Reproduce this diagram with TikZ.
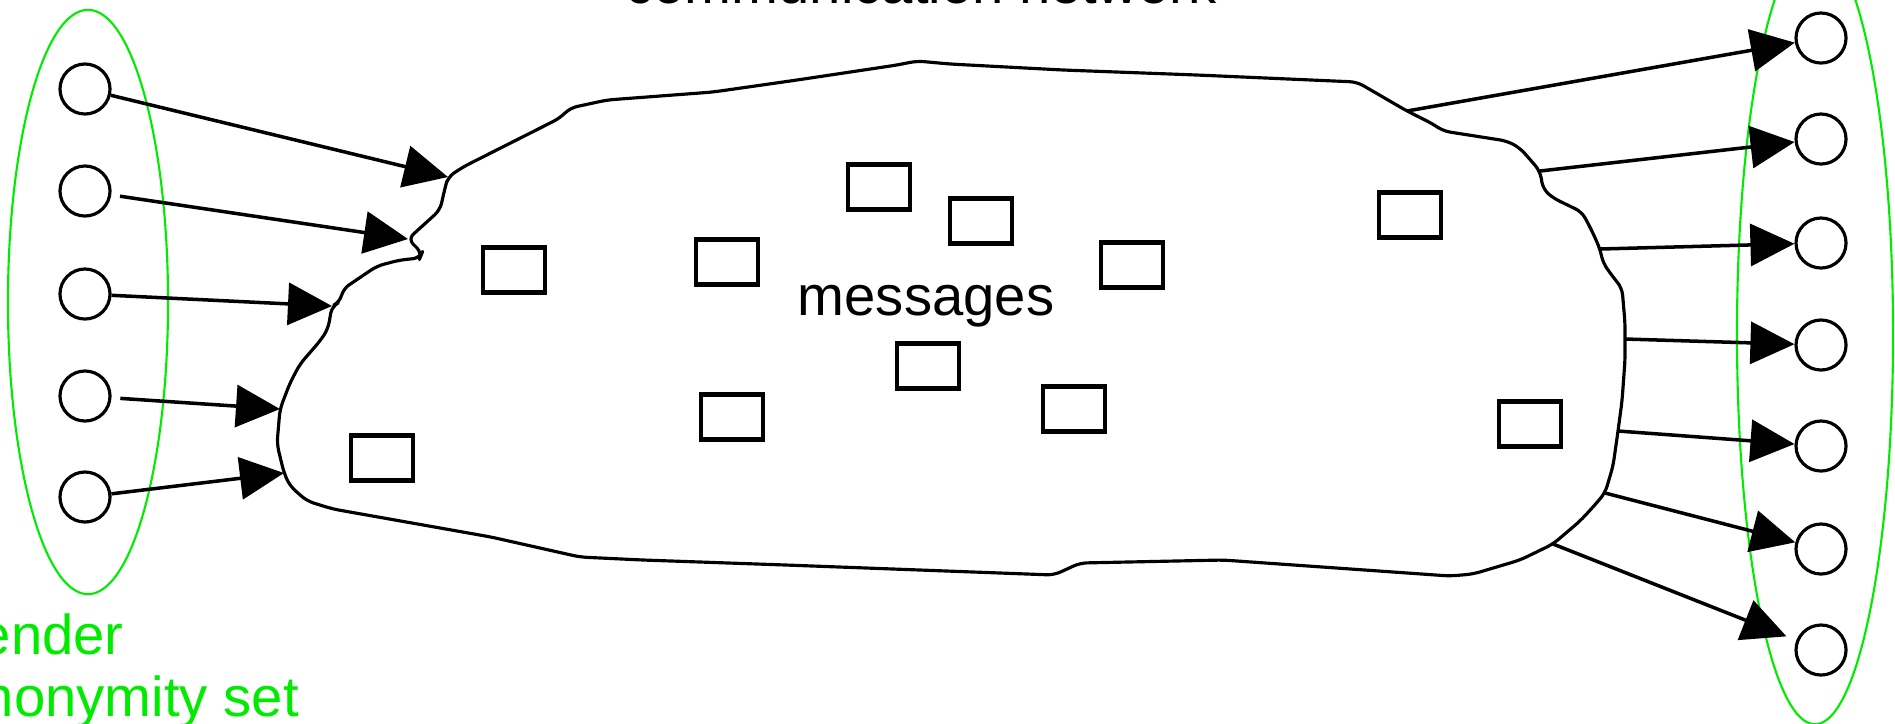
\documentclass[tikz,border=0pt]{standalone}
\usepackage{fontspec}
\setmainfont{Liberation Sans}
\usetikzlibrary{arrows.meta,shapes.geometric,positioning}
\definecolor{setgreen}{RGB}{0,235,0}

\begin{document}
\begin{tikzpicture}[x=0.01cm,y=-0.01cm,
  user/.style={circle,draw,line width=0.9pt,minimum size=0.5cm,inner sep=0pt},
  msg/.style={rectangle,draw,line width=1.3pt,minimum width=0.62cm,minimum height=0.45cm,inner sep=0pt},
  flow/.style={line width=1pt,-{Triangle[length=4.4mm,width=4.2mm]}},
  anonset/.style={ellipse,draw=setgreen,line width=0.6pt,inner sep=0pt}]
\tikzstyle{every node}=[font=\fontsize{16}{17.6}\selectfont]
\useasboundingbox (0,0) rectangle (1895,723);

% anonymity sets
\node[anonset,minimum width=1.6cm,minimum height=5.84cm] (sendset) at (88,302) {};
\node[anonset,minimum width=1.56cm,minimum height=7.8cm] (recvset) at (1815,334) {};
\node[anchor=base west,align=left,text=setgreen,inner sep=0pt] (setlabel) at (-49,716) {sender\\anonymity set};

% senders
\node[user] (s1) at (85,89) {};
\node[user] (s2) at (85,191) {};
\node[user] (s3) at (85,294) {};
\node[user] (s4) at (85,396) {};
\node[user] (s5) at (85,497) {};

% recipients
\node[user] (r1) at (1821,38) {};
\node[user] (r2) at (1821,139) {};
\node[user] (r3) at (1821,243) {};
\node[user] (r4) at (1821,345) {};
\node[user] (r5) at (1821,446) {};
\node[user] (r6) at (1821,549) {};
\node[user] (r7) at (1821,650) {};

% entry and exit points on the network
\coordinate (in1) at (448,177);
\coordinate (in2) at (408,239);
\coordinate (in3) at (332,306);
\coordinate (in4) at (280,409);
\coordinate (in5) at (284,473);
\coordinate (out1) at (1407,111);
\coordinate (out2) at (1540,171);
\coordinate (out3) at (1600,249);
\coordinate (out4) at (1625,339);
\coordinate (out5) at (1618,431);
\coordinate (out6) at (1605,493);
\coordinate (out7) at (1553,544);

% communication network
\draw[line width=0.9pt,line join=round,rounded corners=2pt]
  (in1) -- (463,167) -- (560,118) -- (570,108) -- (607,100) -- (713,92) -- (797,80)
  -- (897,65) -- (917,61) -- (950,64) -- (1063,70) -- (1197,75) -- (1357,82)
  -- (out1) -- (1433,124) -- (1443,131) -- (1507,141) -- (1520,148) -- (out2)
  -- (1543,189) -- (1553,198) -- (1582,212) -- (1592,231) -- (out3) -- (1603,263)
  -- (1613,277) -- (1622,288) -- (1625,323) -- (out4) -- (1625,360) -- (1622,401)
  -- (out5) -- (1613,466) -- (out6) -- (1593,507) -- (1580,521) -- (out7)
  -- (1520,560) -- (1473,574) -- (1450,576) -- (1223,560) -- (1080,563) -- (1054,575)
  -- (786,565) -- (643,560) -- (580,557) -- (491,537) -- (333,509) -- (307,501)
  -- (290,486) -- (in5) -- (277,444) -- (in4) -- (290,383) -- (300,364) -- (320,341)
  -- (328,329) -- (in3) -- (340,302) -- (343,289) -- (377,266) -- (400,260)
  -- (420,258) -- (422,253) -- (in2) -- (440,210) -- (445,188) -- cycle;
\node[anchor=base] (title) at (921,3) {communication network};
\node[anchor=base] (msgs) at (926,315) {messages};

% messages
\node[msg] (m1) at (879,187) {};
\node[msg] (m2) at (981,221) {};
\node[msg] (m3) at (1410,215) {};
\node[msg] (m4) at (514,270) {};
\node[msg] (m5) at (727,262) {};
\node[msg] (m6) at (1132,265) {};
\node[msg] (m7) at (928,366) {};
\node[msg] (m8) at (732,417) {};
\node[msg] (m9) at (1074,409) {};
\node[msg] (m10) at (1530,424) {};
\node[msg] (m11) at (382,458) {};

% sending
\draw[flow] (s1) -- (in1);
\draw[flow,shorten <=2.5pt] (s2) -- (in2);
\draw[flow] (s3) -- (in3);
\draw[flow,shorten <=2.5pt] (s4) -- (in4);
\draw[flow] (s5) -- (in5);

% receiving
\draw[flow] (out1) -- (r1);
\draw[flow] (out2) -- (r2);
\draw[flow] (out3) -- (r3);
\draw[flow] (out4) -- (r4);
\draw[flow] (out5) -- (r5);
\draw[flow] (out6) -- (r6);
\draw[flow,shorten >=3pt] (out7) -- (r7);
\end{tikzpicture}
\end{document}
